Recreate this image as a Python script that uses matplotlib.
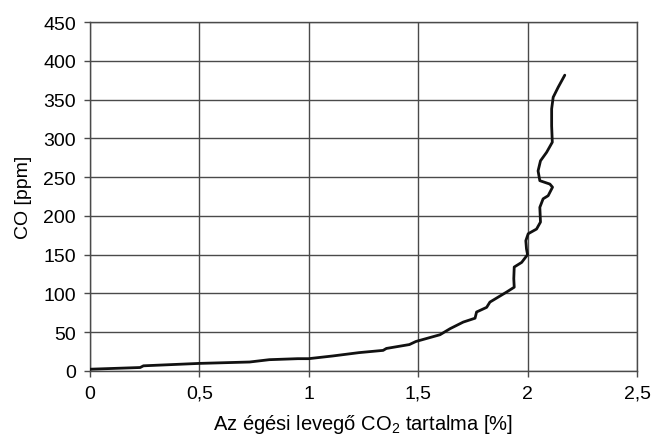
import numpy as np
import matplotlib.pyplot as plt

plt.rcParams['font.family'] = ['Liberation Sans', 'DejaVu Sans']
plt.rcParams['mathtext.default'] = 'regular'

# CO2 content of combustion air [%] vs CO [ppm]
co2 = [0.0, 0.23, 0.245, 0.50, 0.73, 0.82, 0.95, 1.0, 1.11, 1.23, 1.34, 1.355,
       1.46, 1.49, 1.60, 1.646, 1.706, 1.76, 1.767, 1.813, 1.828, 1.904,
       1.939, 1.937, 1.939, 1.973, 2.0, 1.995, 1.992, 2.003, 2.041, 2.059,
       2.056, 2.071, 2.094, 2.114, 2.102, 2.056, 2.048, 2.059, 2.087, 2.113,
       2.110, 2.110, 2.117, 2.140, 2.170]
co = [2.2, 4.4, 6.6, 9.7, 11.5, 14.5, 15.8, 15.8, 19.3, 23.6, 26.5, 29,
      34, 38, 46.7, 54.5, 63, 68, 76, 82, 88.8, 101.7,
      108, 119, 134, 140, 150, 157.5, 168, 177, 183, 192,
      211, 222, 226, 237, 241, 245.4, 258, 271, 282, 295,
      316, 338, 353, 366, 381.5]

xticks = [0, 0.5, 1, 1.5, 2, 2.5]
xticklabels = ['0', '0,5', '1', '1,5', '2', '2,5']
yticks = list(range(0, 451, 50))

fig = plt.figure(figsize=(6.51, 4.35), dpi=100)
ax = fig.add_axes([0.138, 0.145, 0.8405, 0.802])

ax.plot(co2, co, color='#111111', lw=2.0, solid_joinstyle='round',
        solid_capstyle='round', zorder=3)

ax.set_xlim(0, 2.5)
ax.set_ylim(0, 450)
ax.set_xticks(xticks)
ax.set_xticklabels(xticklabels)
ax.set_yticks(yticks)
ax.grid(True, color='#4a4a4a', lw=1.0)
for s in ax.spines.values():
    s.set_color('#4a4a4a')
    s.set_linewidth(1.0)
ax.tick_params(direction='out', length=4, width=1.0, color='#4a4a4a',
               labelsize=14, pad=6)

ax.set_xlabel('Az égési levegő CO$_2$ tartalma [%]', fontsize=14.5, labelpad=7)
ax.set_ylabel('CO [ppm]', fontsize=14, labelpad=8)

fig.savefig('out.png', dpi=100)
